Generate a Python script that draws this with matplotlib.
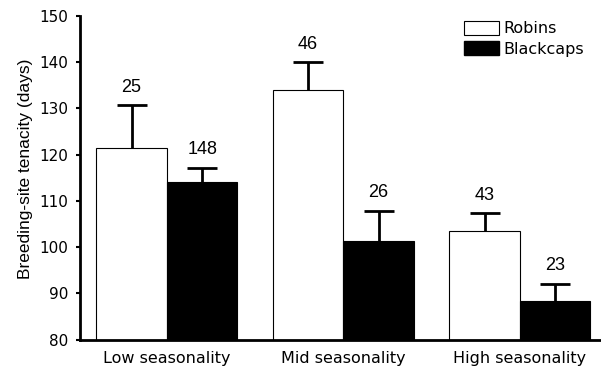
import matplotlib
matplotlib.use("Agg")
import matplotlib.pyplot as plt
import numpy as np
from matplotlib.patches import Patch

# Breeding-site tenacity by seasonality class
groups = ["Low seasonality", "Mid seasonality", "High seasonality"]
robins_mean = [121.4, 133.9, 103.5]
robins_se = [9.2, 6.0, 3.8]
robins_n = [25, 46, 43]
blackcaps_mean = [114.1, 101.3, 88.4]
blackcaps_se = [3.0, 6.6, 3.7]
blackcaps_n = [148, 26, 23]
yticks = [80, 90, 100, 110, 120, 130, 140, 150]

LABEL_FONT = ["Liberation Sans Narrow", "Liberation Sans"]

fig = plt.figure(figsize=(6.01, 3.70), dpi=100)
ax = fig.add_axes([0.1323, 0.0817, 0.8677, 0.8760])

x = np.arange(len(groups))
width = 0.4

for xs, means, errs, ns, face in [
    (x - width / 2, robins_mean, robins_se, robins_n, "white"),
    (x + width / 2, blackcaps_mean, blackcaps_se, blackcaps_n, "black"),
]:
    means = np.asarray(means)
    tops = means + np.asarray(errs)
    ax.bar(xs, means, width, color=face, edgecolor="black", linewidth=0.8,
           zorder=2)
    # upper error bar only: stem plus a cap marker
    ax.vlines(xs, means, tops, color="black", linewidth=2.0, zorder=3)
    ax.plot(xs, tops, ls="none", marker="_", ms=21, mew=2.0, color="black",
            zorder=3)
    for xi, t, n in zip(xs, tops, ns):
        ax.annotate(str(n), (xi, t), xytext=(0, 7),
                    textcoords="offset points", ha="center", va="bottom",
                    fontsize=13, family=LABEL_FONT)

ax.set_xlim(-0.495, 2.46)
ax.set_ylim(80, 150)
ax.set_yticks(yticks)
ax.set_xticks(x)
ax.set_xticklabels(groups)
ax.tick_params(axis="x", length=0, pad=8, labelsize=11.5)
ax.tick_params(axis="y", length=3, width=1.5, pad=5, labelsize=11)
ax.set_ylabel("Breeding-site tenacity (days)", family="Liberation Sans",
              fontsize=12.5)
ax.yaxis.set_label_coords(-0.089, 0.527)

ax.spines[["top", "right"]].set_visible(False)
for side in ["left", "bottom"]:
    ax.spines[side].set_linewidth(2.0)

handles = [Patch(facecolor="white", edgecolor="black", linewidth=0.8),
           Patch(facecolor="black", edgecolor="black")]
ax.legend(handles, ["Robins", "Blackcaps"], loc="upper left",
          bbox_to_anchor=(0.737, 0.985), frameon=False, fontsize=11.5,
          borderpad=0, borderaxespad=0, handlelength=2.2, handleheight=1.0,
          handletextpad=0.25, labelspacing=0.3)

fig.savefig("out.png", dpi=100)
